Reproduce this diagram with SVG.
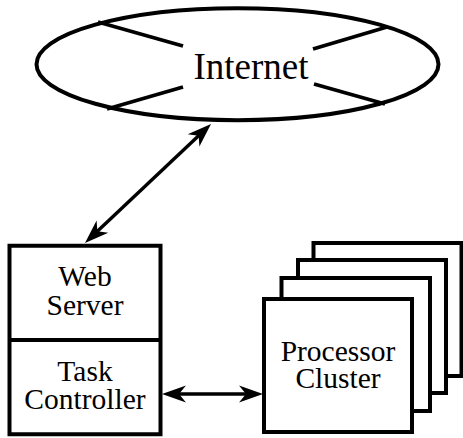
<svg xmlns="http://www.w3.org/2000/svg" width="463" height="438" viewBox="0 0 463 438">
  <style>
    .shape { fill: #fff; stroke: #000; stroke-width: 4; }
    .spoke { stroke: #000; stroke-width: 3.8; fill: none; }
    .link { stroke: #000; stroke-width: 3.4; fill: none; marker-start: url(#ah); marker-end: url(#ah); }
  </style>
  <defs>
    <!-- stealth arrowhead; tip sits 12px beyond the path end -->
    <marker id="ah" viewBox="-14 -10 28 20" refX="0" refY="0" markerWidth="28" markerHeight="20" markerUnits="userSpaceOnUse" orient="auto-start-reverse" overflow="visible">
      <path d="M12,0 L-12,-8.5 L-5,0 L-12,8.5 Z" fill="#000"/>
    </marker>
  </defs>

  <g id="internet">
    <ellipse class="shape" cx="237.5" cy="64.2" rx="201" ry="56"/>
    <line class="spoke" x1="98" y1="22" x2="183" y2="46"/>
    <line class="spoke" x1="313" y1="49" x2="387" y2="27"/>
    <line class="spoke" x1="107" y1="109" x2="183" y2="87"/>
    <line class="spoke" x1="314" y1="84" x2="385" y2="104"/>
    <text x="251" y="79" font-family="'Liberation Serif', 'DejaVu Serif', serif" font-size="37" text-anchor="middle">Internet</text>
  </g>

  <g id="server" font-family="'Liberation Serif', 'DejaVu Serif', serif" font-size="29.5" text-anchor="middle">
    <rect class="shape" x="9.5" y="245.75" width="151" height="188.5"/>
    <line x1="9.5" y1="340" x2="160.5" y2="340" stroke="#000" stroke-width="4"/>
    <text x="85" y="286">Web</text>
    <text x="85" y="315">Server</text>
    <text x="85" y="381">Task</text>
    <text x="85" y="409">Controller</text>
  </g>

  <g id="cluster" font-family="'Liberation Serif', 'DejaVu Serif', serif" font-size="29.5" text-anchor="middle">
    <rect class="shape" x="313.5" y="243" width="148" height="133"/>
    <rect class="shape" x="298" y="260" width="148" height="133"/>
    <rect class="shape" x="281.5" y="278" width="148.5" height="133"/>
    <rect class="shape" x="264" y="299" width="148" height="133"/>
    <text x="338" y="361">Processor</text>
    <text x="338" y="388">Cluster</text>
  </g>

  <g id="connectors">
    <path class="link" d="M93.7,234.8 L202.3,132.2"/>
    <path class="link" d="M174,394 L251,394"/>
  </g>
</svg>
